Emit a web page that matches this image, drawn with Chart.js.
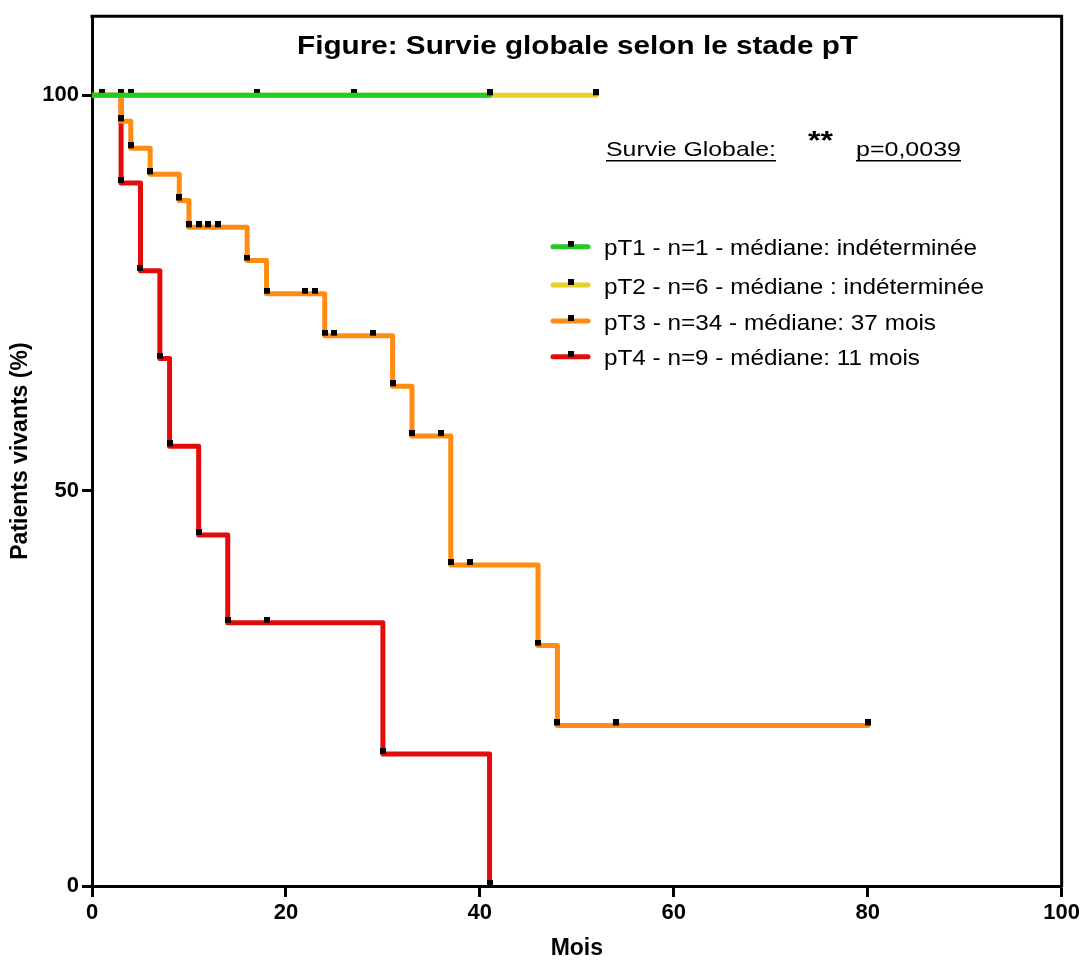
<!DOCTYPE html>
<html>
<head>
<meta charset="utf-8">
<script src="https://cdn.jsdelivr.net/npm/chart.js@4"></script>
<style>
  html, body { margin: 0; padding: 0; background: #fff; }
  canvas { display: block; }
</style>
</head>
<body>
<canvas id="survieChart" width="1083" height="960"></canvas>
<script>
// durées en mois et survie en %
const pT1Mois = [0, 41];
const pT1Survie = [100, 100];
const pT2Mois = [0, 1, 3, 4, 17, 27, 52];
const pT2Survie = [100, 100, 100, 100, 100, 100, 100];
const pT3Mois = [0, 3, 4, 6, 9, 10, 11, 12, 13, 16, 18, 22, 23, 24, 25, 29, 31, 33, 36, 37, 39, 46, 48, 54, 80];
const pT3Survie = [100, 96.7, 93.3, 90, 86.7, 83.3, 83.3, 83.3, 83.3, 79.1, 74.9, 74.9, 74.9, 69.6, 69.6, 69.6, 63.2, 56.9, 56.9, 40.6, 40.6, 30.4, 20.3, 20.3, 20.3];
const pT4Mois = [0, 3, 5, 7, 8, 11, 14, 18, 30, 41];
const pT4Survie = [100, 88.9, 77.8, 66.7, 55.6, 44.4, 33.3, 33.3, 16.7, 0];

const yTicks = [0, 50, 100];
const labels = [
  "pT1 - n=1 - médiane: indéterminée",
  "pT2 - n=6 - médiane : indéterminée",
  "pT3 - n=34 - médiane: 37 mois",
  "pT4 - n=9 - médiane: 11 mois",
];
const colors = ["#22cc22", "#e8cf2a", "#ff8c12", "#e20c0c"];

// petit carré noir, un peu au-dessus de la ligne comme dans Prism
const marker = document.createElement("canvas");
marker.width = 6;
marker.height = 12;
const mctx = marker.getContext("2d");
mctx.fillStyle = "#000";
mctx.fillRect(0, 0, 6, 6);

const toPoints = (xs, ys) => xs.map((x, i) => ({ x: x, y: ys[i] }));

const makeDataset = (label, xs, ys, color) => ({
  label: label,
  data: toPoints(xs, ys),
  borderColor: color,
  backgroundColor: color,
  borderWidth: 5,
  borderJoinStyle: "round",
  borderCapStyle: "round",
  stepped: "before",
  fill: false,
  pointStyle: marker,
  pointRadius: (c) => (c.dataIndex === 0 ? 0 : 4),
  pointHoverRadius: 0,
});

function fitText(ctx, text, left, baseline, width, font) {
  ctx.font = font;
  const sx = width / ctx.measureText(text).width;
  ctx.save();
  ctx.translate(left, baseline);
  ctx.scale(sx, 1);
  ctx.textAlign = "left";
  ctx.textBaseline = "alphabetic";
  ctx.fillText(text, 0, 0);
  ctx.restore();
}

const decorPlugin = {
  id: "decor",
  afterDraw(chart) {
    const { ctx, chartArea: a } = chart;
    ctx.save();
    // cadre haut + droite
    ctx.strokeStyle = "#000";
    ctx.lineWidth = 3;
    ctx.lineCap = "square";
    ctx.beginPath();
    ctx.moveTo(a.left, a.top);
    ctx.lineTo(a.right, a.top);
    ctx.lineTo(a.right, a.bottom);
    ctx.stroke();

    ctx.fillStyle = "#000";
    fitText(ctx, "Figure: Survie globale selon le stade pT", 297, 54, 561, "bold 25px 'Liberation Sans', Arial, sans-serif");

    fitText(ctx, "Survie Globale:", 606, 156, 170, "21px 'Liberation Sans', Arial, sans-serif");
    fitText(ctx, "**", 808, 149, 25, "bold 25px 'Liberation Sans', Arial, sans-serif");
    fitText(ctx, "p=0,0039", 856, 156, 105, "21px 'Liberation Sans', Arial, sans-serif");
    ctx.fillRect(606, 160, 170, 1.5);
    ctx.fillRect(856, 160, 105, 1.5);

    // légende
    const rows = [246.7, 285, 321, 356.7];
    const widths = [373, 380, 332, 316];
    rows.forEach((y, i) => {
      ctx.strokeStyle = colors[i];
      ctx.lineWidth = 5;
      ctx.lineCap = "round";
      ctx.beginPath();
      ctx.moveTo(553, y);
      ctx.lineTo(588, y);
      ctx.stroke();
      ctx.drawImage(marker, 568, y - 6);
      fitText(ctx, labels[i], 604, y + 8.5, widths[i], "22px 'Liberation Sans', Arial, sans-serif");
    });
    ctx.restore();
  },
};

const tickFont = { family: "'Liberation Sans', Arial, sans-serif", size: 22, weight: "bold" };
const titleFont = { family: "'Liberation Sans', Arial, sans-serif", size: 23, weight: "bold" };

new Chart(document.getElementById("survieChart"), {
  type: "line",
  data: {
    datasets: [
      makeDataset(labels[0], pT1Mois, pT1Survie, colors[0]),
      makeDataset(labels[1], pT2Mois, pT2Survie, colors[1]),
      makeDataset(labels[2], pT3Mois, pT3Survie, colors[2]),
      makeDataset(labels[3], pT4Mois, pT4Survie, colors[3]),
    ],
  },
  options: {
    responsive: false,
    devicePixelRatio: 1,
    animation: false,
    events: [],
    layout: { padding: { top: 14, right: 20, left: 0, bottom: 0 } },
    plugins: {
      legend: { display: false },
      tooltip: { enabled: false },
    },
    scales: {
      x: {
        type: "linear",
        min: 0,
        max: 100,
        ticks: { stepSize: 20, color: "#000", font: tickFont, padding: 3, maxRotation: 0 },
        grid: { drawOnChartArea: false, drawTicks: true, tickLength: 11, tickWidth: 3, tickColor: "#000" },
        border: { color: "#000", width: 3 },
        title: { display: true, text: "Mois", color: "#000", font: titleFont, padding: { top: 0, bottom: -2 } },
        afterFit: (s) => { s.height = 74; },
      },
      y: {
        type: "linear",
        min: 0,
        max: 110,
        afterBuildTicks: (s) => { s.ticks = yTicks.map((v) => ({ value: v })); },
        ticks: { color: "#000", font: tickFont, padding: 3 },
        grid: { drawOnChartArea: false, drawTicks: true, tickLength: 10, tickWidth: 3, tickColor: "#000" },
        border: { color: "#000", width: 3 },
        title: { display: true, text: "Patients vivants (%)", color: "#000", font: titleFont, padding: { top: 7, bottom: 0 } },
        afterFit: (s) => { s.width = 92; },
      },
    },
  },
  plugins: [decorPlugin],
});
</script>
</body>
</html>
